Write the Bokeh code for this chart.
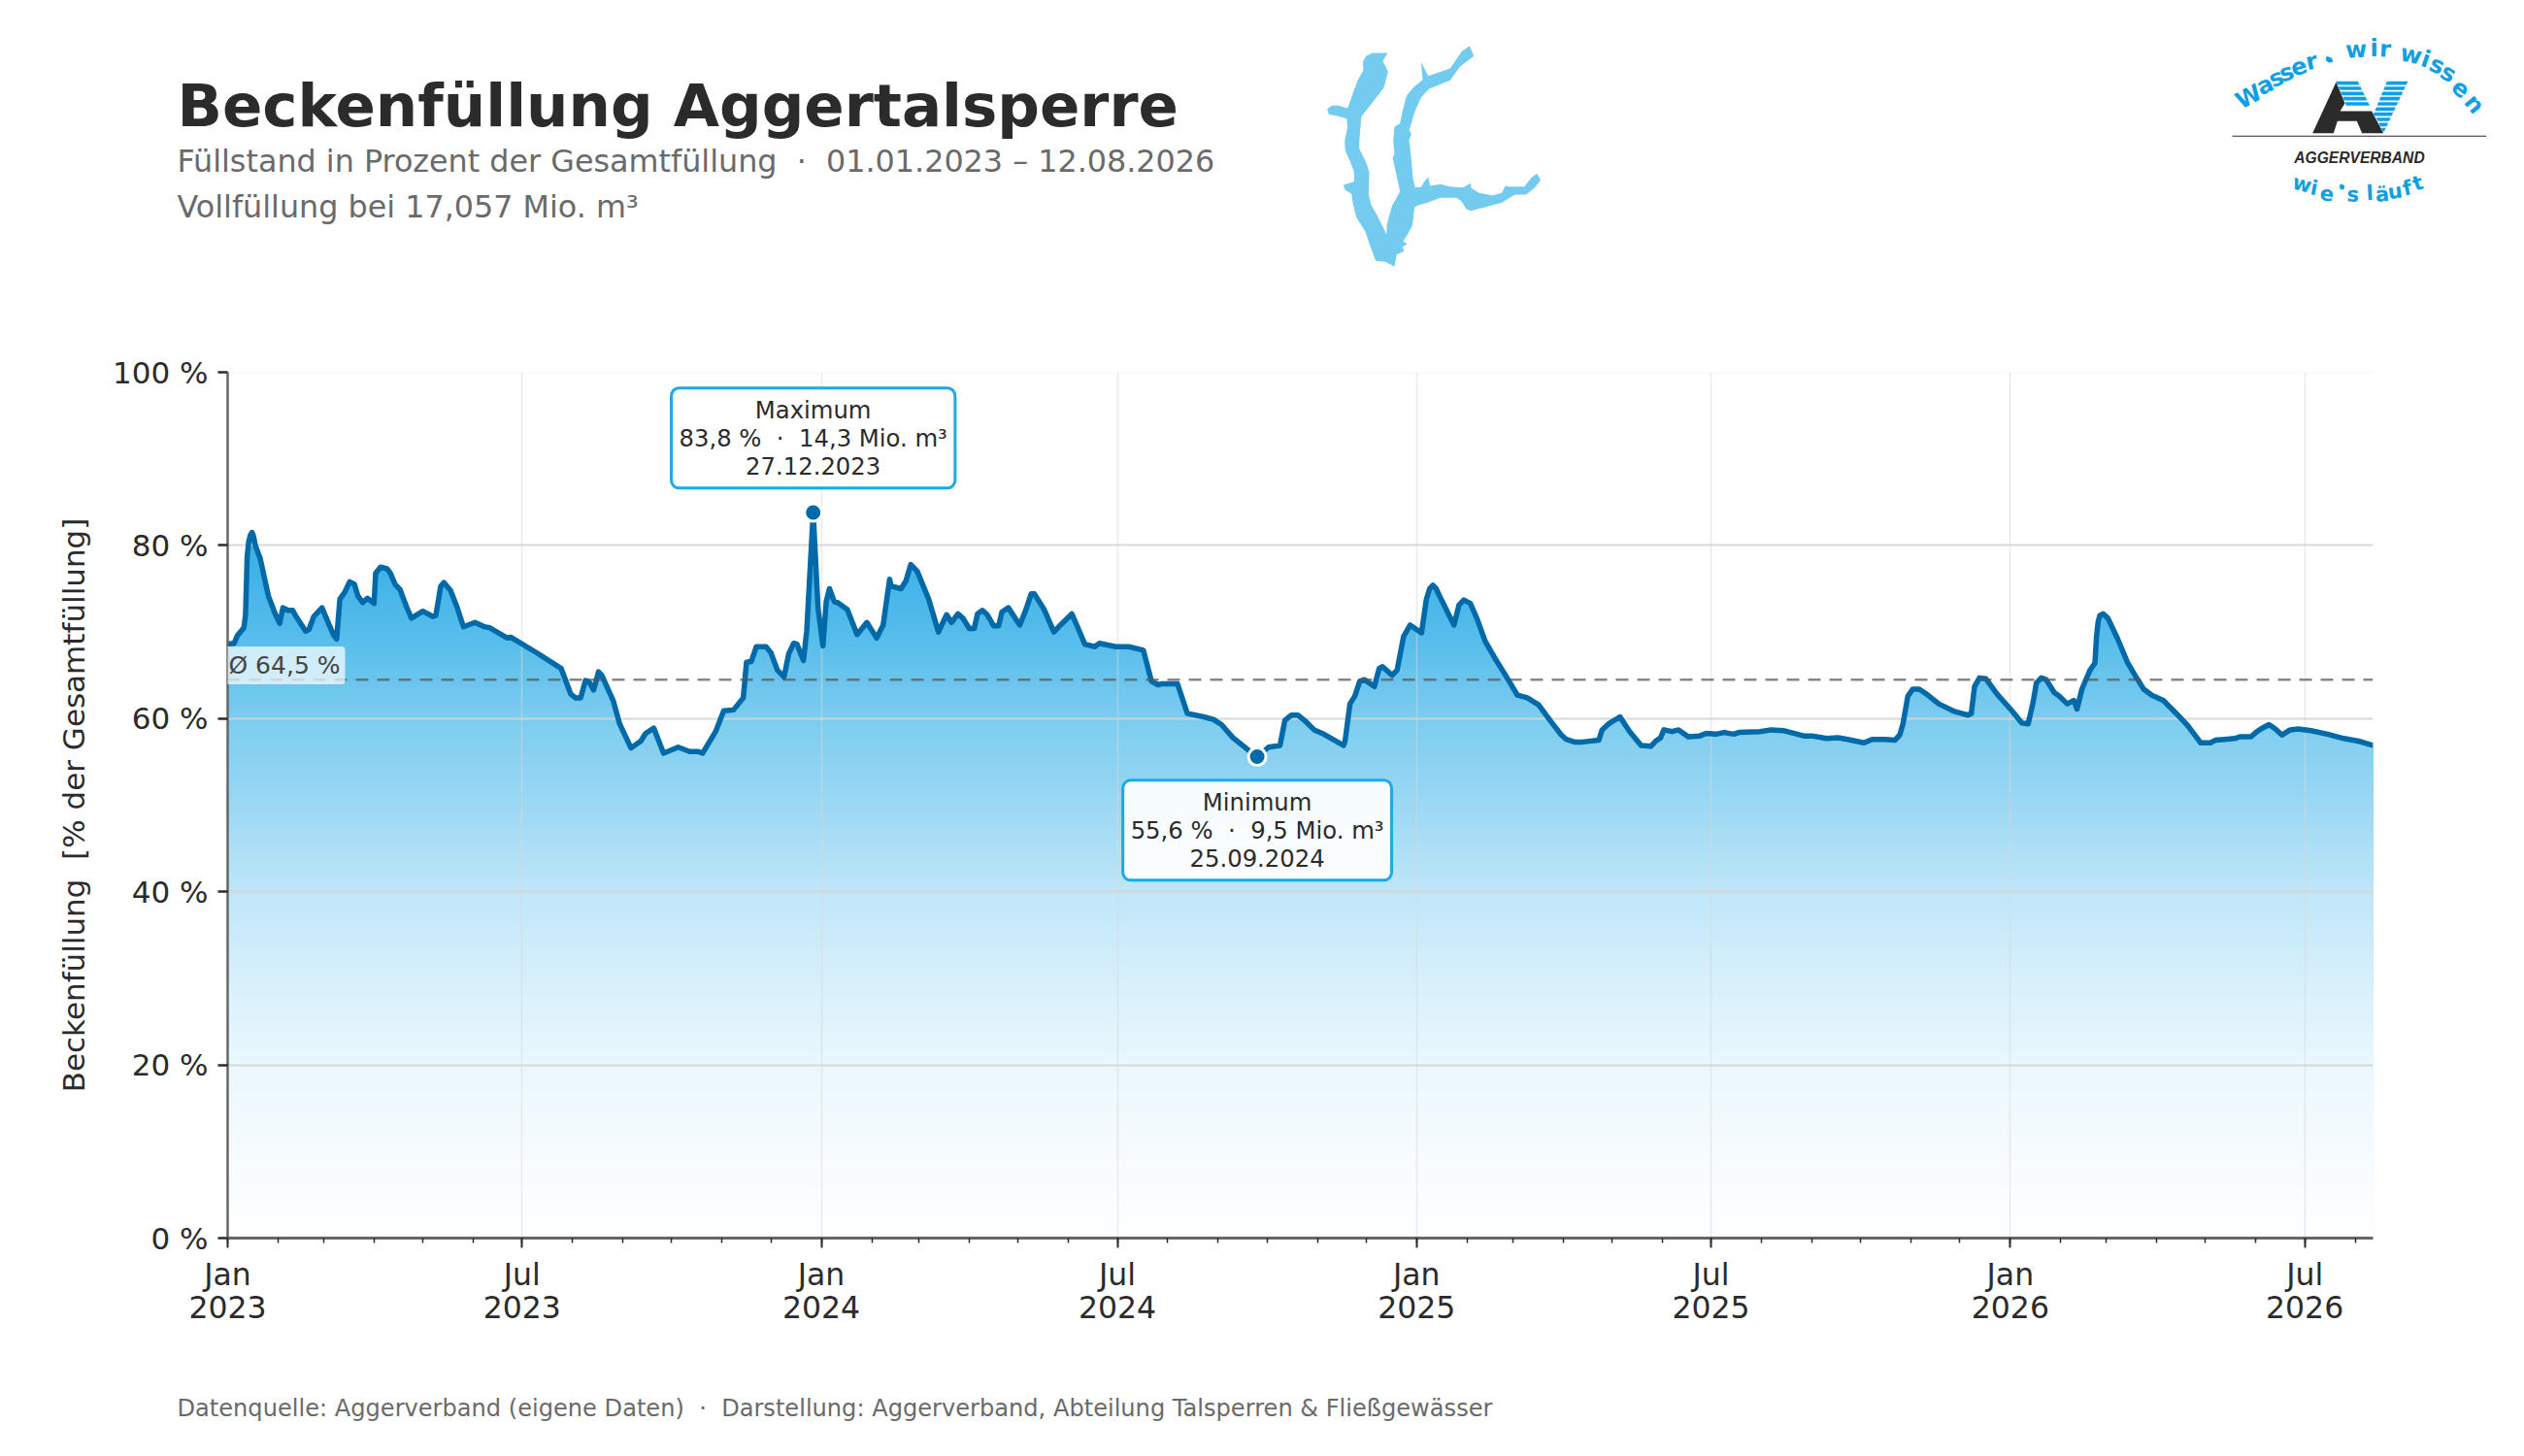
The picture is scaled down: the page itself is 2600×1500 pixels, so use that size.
import numpy as np
import pandas as pd
from bokeh.embed import file_html
from bokeh.layouts import column
from bokeh.resources import INLINE
from bokeh.plotting import figure
from bokeh.models import (ColumnDataSource, FixedTicker, Label, PolyAnnotation, Range1d, Span)

NS = " \u00a0"
TITLE = "Beckenfüllung Aggertalsperre"
SUBTITLE_1 = f"Füllstand in Prozent der Gesamtfüllung{NS}·{NS}01.01.2023 – 12.08.2026"
SUBTITLE_2 = "Vollfüllung bei 17,057 Mio. m³"
FOOTER = f"Datenquelle: Aggerverband (eigene Daten){NS}·{NS}Darstellung: Aggerverband, Abteilung Talsperren & Fließgewässer"
Y_LABEL = f"Beckenfüllung{NS}[% der Gesamtfüllung]"

START = "2023-01-01"
END = "2026-08-12"

day_offsets = [
    0, 4, 6, 10, 11, 12, 13, 14, 15, 16, 17, 20, 25, 29, 32, 34, 37, 40, 42, 48, 50, 53, 56, 58, 62, 65, 67, 69, 72, 75, 78, 80, 83,
    86, 90, 91, 94, 98, 100, 103, 106, 110, 113, 120, 126, 128, 131, 133, 137, 141, 145, 152, 158, 161, 172, 174, 190,
    205, 211, 214, 217, 220, 222, 225, 228, 230, 237, 241, 248, 254, 257, 262, 268, 277, 284, 289, 292, 300, 305, 311,
    317, 319, 322, 325, 331, 334, 338, 342, 345, 348, 350, 354, 356, 360, 363, 366, 368, 370, 373, 375, 381, 387, 393,
    399, 403, 407, 408, 414, 417, 420, 424, 431, 437, 442, 445, 449, 452, 456, 459, 461, 464, 467, 471, 474, 476, 480,
    487, 491, 494, 496, 502, 508, 512, 519, 522, 527, 533, 536, 546, 554, 563, 568, 572, 574, 584, 590, 595, 600, 606,
    611, 618, 628, 633, 640, 647, 650, 654, 658, 662, 668, 674, 686, 687, 690, 693, 696, 699, 705, 708, 710, 716, 719,
    723, 727, 734, 737, 739, 741, 743, 745, 754, 757, 760, 764, 768, 773, 780, 786, 793, 799, 806, 813, 820, 823, 828, 833, 843,
    845, 849, 856, 862, 869, 875, 878, 881, 883, 888, 892, 898, 905, 909, 915, 920, 926, 929, 942, 949, 957, 969, 974,
    983, 990, 996, 1006, 1011, 1019, 1025, 1028, 1030, 1033, 1036, 1040, 1044, 1052, 1062, 1070, 1072, 1074, 1077,
    1081, 1088, 1097, 1103, 1107, 1110, 1112, 1115, 1118, 1123, 1126, 1131, 1135, 1137, 1140, 1145, 1148, 1149, 1150, 1151, 1153,
    1156, 1162, 1168, 1173, 1178, 1183, 1190, 1198, 1205, 1213, 1219, 1222, 1234, 1237, 1244, 1247, 1250, 1255, 1259,
    1263, 1268, 1273, 1281, 1291, 1301, 1310, 1319,
]
fill_percent = [
    68.6, 68.7, 69.6, 70.5, 72.0, 78.7, 80.5, 81.2, 81.5, 81.0, 80.0, 78.5, 74.2, 72.2, 71.0, 72.8, 72.5, 72.5, 71.8, 70.1, 70.3, 71.8,
    72.4, 72.8, 71.0, 69.7, 69.2, 73.8, 74.6, 75.8, 75.5, 74.2, 73.4,
    73.9, 73.3, 76.8, 77.5, 77.3, 76.8, 75.5, 74.9, 72.9, 71.6, 72.4, 71.8, 71.9, 75.3, 75.7, 74.8, 72.9, 70.6, 71.1,
    70.6, 70.5, 69.3, 69.4, 67.6,
    65.8, 62.8, 62.4, 62.4, 64.4, 64.3, 63.3, 65.4, 65.0, 62.1, 59.4, 56.6, 57.4, 58.3, 58.9, 56.0, 56.7, 56.2, 56.2,
    56.0, 58.5, 60.9, 61.0,
    62.4, 66.5, 66.6, 68.3, 68.3, 67.6, 65.6, 64.8, 67.5, 68.7, 68.6, 66.7, 70.1, 83.8, 72.7, 68.4, 73.5, 75.0, 73.5,
    73.4, 72.6, 69.7, 71.1,
    69.3, 70.8, 76.1, 75.3, 75.0, 75.9, 77.8, 77.0, 73.8, 70.0, 72.0, 71.1, 72.1, 71.6, 70.4, 70.4, 72.1, 72.5, 72.0,
    70.7, 70.7, 72.3, 72.8,
    70.8, 72.7, 74.4, 74.4, 72.6, 70.0, 70.8, 72.1, 70.8, 68.6, 68.3, 68.7, 68.3, 68.3, 67.9, 64.3, 63.9, 64.0, 64.0,
    60.6, 60.4, 60.2, 59.9,
    59.3, 57.8, 56.3, 55.6, 56.7, 56.9, 59.8, 60.4, 60.4, 59.8, 58.7, 58.2, 56.9, 57.4, 61.7, 62.6, 64.3, 64.5, 63.7,
    65.8, 66.0, 65.0, 65.6,
    69.5, 70.8, 69.9, 73.8, 75.0, 75.4, 75.0, 74.2, 70.8, 73.1, 73.7, 73.3, 71.6, 69.0, 66.7, 64.9, 62.7, 62.4, 61.6, 59.8, 58.1,
    57.6, 57.3, 57.3, 57.5,
    58.7, 59.4, 60.2, 58.5, 56.9, 56.8, 57.4, 57.8, 58.7, 58.5, 58.7, 57.9, 58.0, 58.3, 58.2, 58.4, 58.2, 58.4, 58.5,
    58.7, 58.6, 58.0, 58.0,
    57.7, 57.8, 57.6, 57.2, 57.6, 57.6, 57.5, 58.1, 59.4, 62.6, 63.4, 63.4, 62.9, 61.7, 60.8, 60.4, 60.6, 63.7, 64.7,
    64.6, 62.8, 60.9, 59.5, 59.4, 61.9, 64.1, 64.7, 64.5, 63.0, 62.6, 61.7, 62.1, 61.1, 63.4, 65.6, 66.4, 69.5, 71.2, 71.9, 72.1,
    71.6, 69.2, 66.5, 64.9, 63.4, 62.7, 62.1, 60.6, 59.2, 57.2, 57.2, 57.5, 57.7, 57.9, 57.9, 58.4, 58.8, 59.3, 58.8,
    58.1, 58.7, 58.8, 58.6, 58.2, 57.7, 57.4, 56.9,
]

AVERAGE = 64.5
MAX_DAY, MAX_VALUE, MAX_TEXT = 360, 83.8, f"Maximum\n83,8 %{NS}·{NS}14,3 Mio. m³\n27.12.2023"
MIN_DAY, MIN_VALUE, MIN_TEXT = 633, 55.6, f"Minimum\n55,6 %{NS}·{NS}9,5 Mio. m³\n25.09.2024"
MEAN_TEXT = "Ø 64,5 %"

y_ticks = [0, 20, 40, 60, 80, 100]
y_tick_labels = ["0 %", "20 %", "40 %", "60 %", "80 %", "100 %"]
x_major_dates = ["2023-01-01", "2023-07-01", "2024-01-01", "2024-07-01", "2025-01-01", "2025-07-01", "2026-01-01", "2026-07-01"]
x_major_labels = ["Jan\n2023", "Jul\n2023", "Jan\n2024", "Jul\n2024", "Jan\n2025", "Jul\n2025", "Jan\n2026", "Jul\n2026"]

# colour of the area by height (percent -> colour)
GRAD_STOPS = [0, 10, 20, 30, 40, 50, 60, 70, 84]
GRAD_COLS = ["#FEFFFF", "#F6FBFE", "#EAF7FD", "#D6F0FB", "#BFE6F8", "#9BD8F3", "#7CCCEF", "#54BCEB", "#2FABE7"]

LAKE = [(237,72),(215,72),(190,72),(170,82),(160,100),(162,125),(145,155),(128,200),(118,230),(113,243),(85,235),(65,235),(50,245),(55,262),(85,268),(110,275),(113,300),(108,325),(104,345),(106,375),(120,405),(133,440),(133,470),(100,480),(105,495),(125,507),(130,540),(140,580),(168,625),(185,675),(200,715),(230,718),(258,733),(265,695),(288,685),(282,672),(298,662),(285,655),(300,630),(313,605),(320,550),(330,543),(360,535),(400,520),(450,520),(465,530),(480,555),(495,560),(540,548),(590,535),(630,510),(665,510),(690,490),(710,465),(698,445),(680,458),(660,485),(610,485),(600,483),(590,505),(560,512),(520,505),(495,490),(493,475),(470,488),(430,485),(400,478),(368,483),(362,455),(350,470),(340,487),(322,488),(315,460),(310,400),(303,340),(310,325),(304,310),(320,255),(340,210),(365,183),(430,157),(460,115),(503,82),(490,50),(465,68),(430,120),(362,143),(340,100),(345,155),(315,180),(295,205),(282,255),(275,290),(258,300),(254,345),(258,385),(252,395),(262,440),(275,500),(250,545),(235,600),(233,632),(205,575),(185,540),(178,510),(180,440),(170,410),(148,365),(155,270),(190,225),(225,180),(238,130),(222,97)]

# --- geometry of the page (page pixels, reference frame)
FL, FR, FT, FB = 234, 2444, 383, 1275
HEAD_H, FOOT_TOP = 300, 1420
t0 = pd.Timestamp(START)
def ms(ts):
    return pd.Timestamp(ts).timestamp() * 1000.0
x0, x1 = ms(START), ms(END)
dates_ms = np.array([ms(t0 + pd.Timedelta(days=d)) for d in day_offsets])
vals = np.array(fill_percent, dtype=float)

def blank(h):
    f = figure(width=2584, height=h, output_backend="svg", toolbar_location=None, x_axis_location=None,
               y_axis_location=None, min_border=0, x_range=Range1d(0, 1), y_range=Range1d(0, 1), frame_align=False)
    f.outline_line_color = None
    f.grid.visible = False
    return f

head = blank(HEAD_H)
foot = blank(1484 - FOOT_TOP)

p = figure(width=2584, height=FOOT_TOP - HEAD_H, x_axis_type="datetime", output_backend="svg", toolbar_location=None,
           x_range=Range1d(x0, x1), y_range=Range1d(0, 100), frame_align=False,
           min_border_left=FL, min_border_right=2584 - FR, min_border_top=FT - HEAD_H, min_border_bottom=FOOT_TOP - FB)
p.outline_line_color = None
p.background_fill_color = "white"
p.border_fill_color = "white"

# gradient area: nested solid areas, painted from the tallest down
def hex2rgb(h):
    return np.array([int(h[i:i + 2], 16) for i in (1, 3, 5)], dtype=float)
rgb = np.array([hex2rgb(c) for c in GRAD_COLS])
tops = np.arange(84.0, 0.0, -0.5)
src = {"x": dates_ms, "zero": np.zeros_like(vals)}
for i, top in enumerate(tops):
    src[f"b{i}"] = np.minimum(vals, top)
source = ColumnDataSource(src)
for i, top in enumerate(tops):
    mid = top - 0.25
    c = [int(round(np.interp(mid, GRAD_STOPS, rgb[:, k]))) for k in range(3)]
    p.varea(x="x", y1="zero", y2=f"b{i}", source=source, fill_color="#%02x%02x%02x" % tuple(c), level="image")

# grid
p.xgrid.ticker = FixedTicker(ticks=[ms(d) for d in x_major_dates])
p.ygrid.ticker = FixedTicker(ticks=[20, 40, 60, 80])
p.xgrid.grid_line_color = "#d8d8d8"
p.xgrid.grid_line_alpha = 0.5
p.xgrid.grid_line_width = 1.5
p.ygrid.grid_line_color = "#d4d4d4"
p.ygrid.grid_line_alpha = 0.9
p.ygrid.grid_line_width = 2
p.add_layout(Span(location=100, dimension="width", line_color="#f3f3f3", line_width=1.5, level="underlay"))

# average
p.add_layout(Span(location=AVERAGE, dimension="width", line_color="#555555", line_alpha=0.7, line_width=2.5,
                  line_dash="13 9", level="glyph"))

# line & extremes
line = p.line(dates_ms, vals, line_color="#0069A8", line_width=5.5, line_join="round")
p.scatter([ms(t0 + pd.Timedelta(days=MAX_DAY)), ms(t0 + pd.Timedelta(days=MIN_DAY))], [MAX_VALUE, MIN_VALUE],
          size=18, fill_color="#0069A8", line_color="white", line_width=3)

# axes
ax = p.xaxis[0]
minor = [ms(d) for d in pd.date_range(START, END, freq="MS")]
ax.ticker = FixedTicker(ticks=[ms(d) for d in x_major_dates], minor_ticks=minor)
ax.major_label_overrides = {ms(d): l for d, l in zip(x_major_dates, x_major_labels)}
ax.major_label_text_font = "DejaVu Sans"
ax.major_label_text_font_size = "31.5px"
ax.major_label_text_color = "#2b2b2b"
ax.major_label_text_line_height = 0.97
ax.major_label_standoff = 9
ax.major_tick_in = 0
ax.major_tick_out = 10
ax.minor_tick_in = 0
ax.minor_tick_out = 5
ax.major_tick_line_color = "#2b2b2b"
ax.minor_tick_line_color = "#2b2b2b"
ax.major_tick_line_width = 2
ax.minor_tick_line_width = 1.5
ax.axis_line_color = "#666666"
ax.axis_line_width = 3

ay = p.yaxis[0]
ay.ticker = FixedTicker(ticks=y_ticks)
ay.minor_tick_line_color = None
ay.major_label_overrides = dict(zip(y_ticks, y_tick_labels))
ay.major_label_text_font = "DejaVu Sans"
ay.major_label_text_font_size = "31px"
ay.major_label_text_color = "#2b2b2b"
ay.major_label_standoff = 10
ay.major_tick_in = 0
ay.major_tick_out = 10
ay.major_tick_line_color = "#2b2b2b"
ay.major_tick_line_width = 2.5
ay.axis_line_color = "#666666"
ay.axis_line_width = 2.5
ay.axis_label = Y_LABEL
ay.axis_label_text_font = "DejaVu Sans"
ay.axis_label_text_font_size = "31px"
ay.axis_label_text_font_style = "normal"
ay.axis_label_text_color = "#2b2b2b"
ay.axis_label_standoff = 19

def text(f, px, py, s, size, color, style="normal", font="DejaVu Sans", align="left", baseline="alphabetic", angle=0):
    f.add_layout(Label(x=px, y=py, x_units="canvas", y_units="canvas", text=s, text_font=font,
                       text_font_size=f"{size}px", text_color=color,
                       text_font_style=style, text_align=align, text_baseline=baseline,
                       angle=angle, angle_units="deg"))

text(head, 182, 108, TITLE, 61, "#2b2b2b", "bold")
text(head, 182, 165, SUBTITLE_1, 31.8, "#6a6a6a")
text(head, 182, 212, SUBTITLE_2, 31.8, "#6a6a6a")
text(foot, 182, 1450 - FOOT_TOP, FOOTER, 24.1, "#6a6a6a")

# callouts
for day, pct, s in ((MAX_DAY, 92.4, MAX_TEXT), (MIN_DAY, 47.1, MIN_TEXT)):
    p.add_layout(Label(x=ms(t0 + pd.Timedelta(days=day)), y=pct, text=s, text_font="DejaVu Sans", text_font_size="24.3px",
                       text_color="#2b2b2b", text_align="center", text_baseline="middle", text_line_height=1.0,
                       background_fill_color="white", background_fill_alpha=0.92, border_line_color="#1FA8E6",
                       border_line_width=3, border_radius=8, padding=8))
p.add_layout(Label(x=230, y=685 - HEAD_H, x_units="canvas", y_units="canvas", text=MEAN_TEXT, text_font="DejaVu Sans",
                   text_font_size="25px", text_color="#444444", text_align="left", text_baseline="middle",
                   background_fill_color="white", background_fill_alpha=0.7, border_radius=4, padding=5))

# lake outline
head.add_layout(PolyAnnotation(xs=[1350 + a / 3 for a, b in LAKE], ys=[30 + b / 3 for a, b in LAKE],
                               xs_units="canvas", ys_units="canvas",
                               fill_color="#74CBF0", fill_alpha=1, line_alpha=0))

# logo
def lx(z): return 2290 + z / 3
def ly(z): return 30 + z / 3
def poly(pts, color):
    head.add_layout(PolyAnnotation(xs=[lx(a) for a, b in pts], ys=[ly(b) for a, b in pts],
                                   xs_units="canvas", ys_units="canvas",
                                   fill_color=color, fill_alpha=1, line_alpha=0))
BLUE = "#0FA0E3"
DARK = "#2b2b2b"
def lerp(a, b, y):
    t = (y - a[1]) / (b[1] - a[1])
    return a[0] + t * (b[0] - a[0])
poly([(348,162),(275,320),(340,320),(352,283),(412,283),(428,320),(494,320),(458,252),(360,252),(375,228)], DARK)
for r in range(10):
    y0 = 160 + r * 16
    y1 = y0 + 11
    if y1 <= 250:
        a, b, c, e = (348,160), (385,248), (415,160), (458,248)
        poly([(lerp(a,b,y0),y0),(lerp(c,e,y0),y0),(lerp(c,e,y1),y1),(lerp(a,b,y1),y1)], BLUE)
    lo = ((505,160),(465,258)) if y0 < 258 else ((465,258),(494,320))
    ro = ((570,160),(494,320))
    poly([(lerp(*lo,y0),y0),(lerp(*ro,y0),y0),(lerp(*ro,y1),y1),(lerp(*lo,y1),y1)], BLUE)
poly([(27,328),(812,328),(812,331),(27,331)], DARK)
text(head, lx(420), ly(396), "AGGERVERBAND", 15.6, DARK, "bold italic", "Liberation Sans", "center")
ARC_TOP = [("W",78,208,28),("a",128,172,25),("s",163,150,22),("s",195,133,19),("e",232,112,16),("r",272,98,12),
           ("w",410,62,3),("i",465,57,0),("r",500,60,-3),("w",580,78,-12),("i",625,92,-18),("s",660,110,-24),
           ("s",695,135,-30),("e",735,180,-40),("n",775,230,-50)]
ARC_BOTTOM = [("w",243,478,-15),("i",280,490,-11),("e",320,505,-8),("s",400,510,-3),("l",452,505,3),("ä",490,510,5),
              ("u",530,500,8),("f",568,490,12),("t",600,475,18)]
for ch, a, b, ang in ARC_TOP:
    text(head, lx(a), ly(b), ch, 24, BLUE, "bold", "DejaVu Sans", "center", "middle", ang)
for ch, a, b, ang in ARC_BOTTOM:
    text(head, lx(a), ly(b), ch, 21, BLUE, "bold", "DejaVu Sans", "center", "middle", ang)
poly([(318,82),(335,88),(338,100),(326,103),(316,95)], BLUE)
poly([(362,476),(374,482),(372,494),(362,494),(358,486)], BLUE)

page = column(head, p, foot, spacing=0)
open("out.html", "w").write(file_html(page, INLINE))
